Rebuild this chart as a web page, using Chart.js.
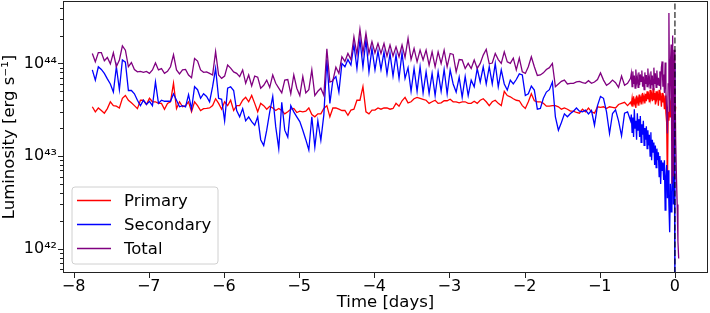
<!DOCTYPE html>
<html>
<head>
<meta charset="utf-8">
<script src="https://cdn.jsdelivr.net/npm/chart.js@4.4.1/dist/chart.umd.min.js"></script>
<style>
  html, body { margin: 0; padding: 0; background: #fff; }
  #wrap { width: 710px; height: 313px; }
</style>
</head>
<body>
<div id="wrap"><canvas id="lum"></canvas></div>
<script>
// luminosity values are given in units of 1e43 erg/s
const UNIT = 1e43;

// sample times: output every 0.04 d, then every 0.01 d over the last ~0.6 d
const coarseStart = -7.75, coarseStep = 0.04, coarseCount = 180;
const fineStart = -0.58, fineStep = 0.01, fineCount = 64;

const xTicks = [-8, -7, -6, -5, -4, -3, -2, -1, 0];
const xMin = -8.14, xMax = 0.44;
const yMin = 5.45e41, yMax = 4.72e44;
const mergerTime = 0;

const primary = [
  // coarse part
  3.4, 3.0, 3.3, 3.1, 2.9, 3.25, 3.85, 3.5, 3.45, 3.3,
  4.2, 4.5, 4.0, 3.75, 3.5, 3.25, 4.0, 4.0, 3.6, 4.2,
  3.85, 3.85, 3.7, 3.7, 3.2, 3.7, 3.85, 6.1, 3.25, 3.85,
  3.4, 3.5, 3.85, 3.0, 3.85, 3.5, 3.1, 3.25, 3.26, 3.3,
  3.5, 4.15, 3.7, 3.2, 3.85, 3.5, 4.0, 3.1, 3.5, 3.5,
  4.0, 4.3, 3.85, 4.5, 3.7, 3.0, 3.7, 3.5, 3.2, 3.45,
  3.3, 3.1, 3.26, 3.1, 2.85, 3.0, 3.2, 3.26, 2.95, 3.05,
  3.0, 3.05, 3.3, 2.8, 2.65, 2.85, 2.85, 3.26, 3.5, 2.65,
  3.3, 3.3, 3.2, 3.1, 3.1, 2.75, 3.13, 3.2, 4.0, 4.0,
  5.6, 3.0, 2.85, 3.13, 3.13, 3.3, 3.2, 3.3, 3.3, 3.2,
  3.26, 3.7, 3.45, 3.95, 4.3, 3.75, 3.85, 4.15, 4.3, 4.2,
  4.1, 4.0, 3.7, 3.85, 4.0, 3.7, 3.75, 3.95, 3.95, 4.1,
  3.85, 3.85, 3.75, 3.85, 3.85, 3.7, 3.7, 3.9, 3.7, 4.0,
  4.15, 3.85, 3.5, 3.85, 4.0, 3.7, 3.5, 5.0, 4.5, 4.36,
  4.15, 4.0, 3.95, 3.5, 3.26, 3.85, 4.7, 3.95, 3.85, 3.85,
  3.7, 3.45, 3.45, 3.5, 3.5, 3.4, 3.2, 3.3, 3.2, 3.05,
  3.05, 2.95, 2.9, 3.2, 3.0, 3.3, 3.0, 2.9, 3.4, 3.35,
  3.4, 3.26, 3.4, 3.35, 3.3, 3.6, 3.7, 3.8, 3.5, 3.8,
  // fine part
  3.6, 4.2, 3.4, 4.4, 3.7, 4.0, 3.3, 4.5, 3.8, 4.2,
  3.5, 4.6, 3.9, 4.3, 3.6, 4.8, 4.0, 4.4, 3.7, 4.7,
  3.9, 5.0, 4.1, 4.5, 3.8, 5.2, 4.2, 4.6, 3.9, 5.4,
  4.0, 4.8, 3.6, 5.0, 4.2, 4.6, 3.5, 5.2, 4.0, 4.4,
  3.4, 4.8, 3.8, 4.2, 3.2, 4.5, 2.9, 2.3, 0.46, 3.0,
  2.4, 4.0, 2.6, 4.2, 2.8, 4.4, 3.0, 3.8, 2.6, 3.4,
  null, null, null, null
];

const secondary = [
  8.5, 6.6, 9.2, 8.6, 7.8, 6.8, 6.0, 4.9, 9.2, 5.2,
  10.9, 10.3, 5.1, 5.1, 4.7, 4.0, 3.5, 4.0, 3.6, 3.9,
  3.5, 6.3, 3.7, 4.0, 3.9, 3.9, 3.9, 4.7, 4.0, 3.4,
  3.5, 3.4, 4.6, 3.2, 5.6, 5.2, 4.2, 4.7, 4.4, 3.85,
  5.6, 8.8, 4.2, 4.1, 2.4, 5.4, 5.6, 5.1, 3.1, 2.65,
  3.25, 2.4, 2.65, 2.35, 2.15, 2.65, 1.5, 1.3, 1.9, 3.0,
  4.4, 2.06, 1.2, 3.8, 1.9, 1.6, 3.5, 3.0, 2.65, 2.35,
  1.9, 1.5, 1.16, 2.65, 1.25, 2.4, 1.48, 2.8, 11.0, 3.7,
  6.6, 7.2, 4.9, 10.0, 9.2, 11.0, 9.6, 16.0, 8.8, 18.0,
  9.2, 18.0, 8.1, 14.5, 8.5, 13.6, 8.6, 13.3, 7.7, 12.8,
  7.3, 12.3, 6.9, 13.0, 6.9, 9.0, 5.0, 8.8, 5.0, 9.2,
  4.8, 8.1, 4.74, 7.8, 4.5, 8.1, 5.0, 8.6, 4.7, 8.5,
  6.0, 4.9, 7.1, 4.3, 7.2, 4.5, 6.6, 5.6, 8.8, 6.3,
  9.2, 6.0, 9.2, 6.0, 10.0, 5.6, 8.5, 6.0, 5.15, 6.6,
  6.0, 6.7, 7.7, 7.5, 4.5, 4.7, 5.7, 5.15, 3.2, 3.26,
  4.2, 4.9, 5.2, 6.3, 2.65, 1.9, 2.3, 2.85, 2.65, 2.88,
  3.05, 3.3, 3.05, 3.0, 3.13, 2.85, 3.1, 2.15, 3.5, 4.4,
  4.2, 3.0, 1.75, 2.88, 3.15, 2.4, 1.65, 2.9, 3.0, 2.4,
  2.8, 1.8, 2.6, 1.6, 3.2, 2.0, 2.4, 1.5, 2.9, 1.9,
  2.5, 1.6, 2.7, 1.4, 2.2, 1.7, 2.4, 1.3, 2.0, 1.5,
  2.1, 1.2, 1.9, 1.3, 1.7, 1.0, 1.8, 0.9, 1.5, 1.1,
  1.4, 0.8, 1.3, 0.75, 1.2, 0.9, 1.1, 0.6, 1.0, 0.5,
  0.9, 0.7, 0.85, 0.55, 0.9, 0.26, 0.6, 0.8, 0.35, 0.7,
  0.3, 0.15, 0.5, 0.25, 0.4, 1.5, 0.3, 10, 0.02, null,
  null, null, null, null
];

const total = [
  12.8, 10.4, 13.1, 13.1, 10.7, 11.6, 9.9, 13.0, 9.2, 10.9,
  15.5, 13.9, 9.2, 10.2, 8.6, 8.1, 8.2, 8.0, 8.2, 7.8,
  8.5, 10.1, 8.5, 8.8, 7.8, 8.2, 9.2, 12.4, 8.5, 7.7,
  8.5, 8.6, 7.5, 7.0, 11.3, 10.6, 8.5, 8.0, 8.1, 7.8,
  7.5, 13.4, 7.5, 6.9, 7.3, 9.6, 8.9, 8.1, 7.8, 7.2,
  8.5, 6.1, 7.5, 5.7, 7.3, 7.1, 5.4, 5.8, 6.6, 5.5,
  7.5, 6.1, 5.4, 4.8, 6.6, 6.7, 4.7, 7.5, 5.4, 4.5,
  7.2, 4.8, 5.2, 8.5, 4.5, 5.0, 5.4, 4.5, 14.4, 6.3,
  6.5, 9.1, 7.8, 11.8, 10.5, 12.8, 11.0, 19.4, 12.5, 23.3,
  13.0, 21.1, 12.8, 17.2, 13.0, 16.4, 12.8, 16.4, 12.0, 15.8,
  12.0, 15.1, 11.8, 15.8, 11.6, 18.6, 11.0, 14.5, 10.4, 13.9,
  10.9, 13.9, 9.6, 13.3, 9.2, 13.3, 10.0, 13.9, 9.2, 12.8,
  12.5, 8.1, 11.0, 10.9, 8.8, 10.0, 8.8, 10.9, 8.8, 10.0,
  12.3, 14.2, 9.9, 10.1, 12.8, 11.0, 10.0, 13.3, 10.4, 10.0,
  11.4, 8.5, 11.4, 8.1, 7.8, 9.2, 11.8, 9.2, 7.4, 7.5,
  7.9, 8.6, 9.0, 10.0, 5.6, 6.0, 6.4, 6.6, 6.0, 6.1,
  6.1, 6.3, 6.4, 6.2, 6.1, 6.5, 6.1, 6.3, 6.7, 7.9,
  6.6, 5.8, 6.1, 6.6, 6.2, 5.5, 7.3, 5.8, 6.1, 6.9,
  7.8, 5.6, 8.2, 6.0, 7.4, 5.4, 8.6, 6.2, 7.0, 5.5,
  8.0, 5.8, 7.6, 6.4, 8.4, 5.6, 7.2, 5.2, 8.0, 6.0,
  7.5, 5.6, 8.8, 6.2, 7.0, 5.4, 8.2, 5.8, 7.4, 5.2,
  9.0, 6.0, 7.8, 5.5, 8.4, 5.8, 7.0, 5.8, 8.2, 5.2,
  9.0, 10.5, 5.6, 7.6, 4.8, 10.2, 5.0, 3.0, 1.75, 6.0,
  35, 3.0, 10, 16, 0.5, 20, 0.6, 14, 8, 1.5,
  0.6, 0.3, 0.12, 0.078
];

const times = [];
for (let i = 0; i < coarseCount; i++) times.push(+(coarseStart + i * coarseStep).toFixed(2));
for (let k = 0; k < fineCount; k++) times.push(+(fineStart + k * fineStep).toFixed(2));

function toPoints(vals) {
  return times.map((t, i) => ({ x: t, y: vals[i] == null ? null : vals[i] * UNIT }));
}

const SUP = '⁰¹²³⁴⁵⁶⁷⁸⁹';
function sup(n) {
  return String(n).split('').map(c => SUP[+c]).join('');
}

const FONT = 'DejaVu Sans';
Chart.defaults.font.family = FONT;
Chart.defaults.color = '#000';

// spines and tick marks (major/minor) like matplotlib
const axesFrame = {
  id: 'axesFrame',
  afterDatasetsDraw(chart) {
    const { ctx, chartArea: a, scales: { x, y } } = chart;
    ctx.save();
    ctx.strokeStyle = '#222';
    ctx.lineWidth = 1;
    ctx.beginPath();
    x.ticks.forEach(t => {
      const px = Math.round(x.getPixelForValue(t.value)) + 0.5;
      ctx.moveTo(px, a.bottom);
      ctx.lineTo(px, a.bottom + 5);
    });
    y.ticks.forEach(t => {
      const py = Math.round(y.getPixelForValue(t.value)) + 0.5;
      ctx.moveTo(a.left, py);
      ctx.lineTo(a.left - (t.major ? 5 : 3), py);
    });
    ctx.stroke();
    ctx.strokeRect(Math.round(a.left) + 0.5, Math.round(a.top) + 0.5,
      Math.round(a.right - a.left) - 1, Math.round(a.bottom - a.top) - 1);
    ctx.restore();
  }
};

// legend box in the lower left of the axes
const boxLegend = {
  id: 'boxLegend',
  afterDraw(chart) {
    const { ctx, chartArea: a } = chart;
    const items = chart.data.datasets.filter(d => d.label);
    const rowH = 24, w = 146, h = 77;
    const x0 = a.left + 9, y0 = a.bottom - 9 - h;
    const r = 3;
    ctx.save();
    ctx.beginPath();
    ctx.moveTo(x0 + r, y0);
    ctx.arcTo(x0 + w, y0, x0 + w, y0 + h, r);
    ctx.arcTo(x0 + w, y0 + h, x0, y0 + h, r);
    ctx.arcTo(x0, y0 + h, x0, y0, r);
    ctx.arcTo(x0, y0, x0 + w, y0, r);
    ctx.closePath();
    ctx.fillStyle = 'rgba(255,255,255,0.8)';
    ctx.fill();
    ctx.strokeStyle = '#d0d0d0';
    ctx.lineWidth = 1;
    ctx.stroke();
    ctx.font = '16.5px "' + FONT + '"';
    ctx.textBaseline = 'middle';
    ctx.fillStyle = '#000';
    items.forEach((d, i) => {
      const cy = y0 + 13.5 + i * rowH;
      ctx.beginPath();
      ctx.strokeStyle = d.borderColor;
      ctx.lineWidth = 1.5;
      ctx.moveTo(x0 + 5, cy);
      ctx.lineTo(x0 + 39, cy);
      ctx.stroke();
      ctx.fillText(d.label, x0 + 52, cy + 1);
    });
    ctx.restore();
  }
};

const lineStyle = { pointRadius: 0, borderWidth: 1.3, tension: 0, spanGaps: false, fill: false };

new Chart(document.getElementById('lum'), {
  type: 'line',
  data: {
    datasets: [
      { label: '', data: [{ x: mergerTime, y: yMin }, { x: mergerTime, y: yMax }],
        borderColor: 'rgba(0,0,0,0.75)', borderWidth: 1.4, borderDash: [6, 2.5],
        pointRadius: 0, order: 0 },
      { label: 'Primary', data: toPoints(primary), borderColor: '#ff0000', order: 3, ...lineStyle },
      { label: 'Secondary', data: toPoints(secondary), borderColor: '#0000ff', order: 2, ...lineStyle },
      { label: 'Total', data: toPoints(total), borderColor: '#800080', order: 1, ...lineStyle }
    ]
  },
  options: {
    responsive: true,
    maintainAspectRatio: false,
    animation: false,
    devicePixelRatio: 1,
    layout: { padding: { top: 1, right: 2, left: 0, bottom: 0 } },
    plugins: { legend: { display: false }, tooltip: { enabled: false } },
    scales: {
      x: {
        type: 'linear',
        min: xMin,
        max: xMax,
        afterBuildTicks: s => { s.ticks = xTicks.map(v => ({ value: v })); },
        afterFit: s => { s.height = 40; s.paddingLeft = 0; s.paddingRight = 0; },
        grid: { display: false, drawTicks: true, tickLength: 5 },
        border: { display: false },
        ticks: {
          font: { size: 16 },
          padding: -1,
          maxRotation: 0,
          autoSkip: false,
          callback: v => (v < 0 ? '\u2212' + Math.abs(v) : String(v))
        },
        title: { display: true, text: 'Time [days]', font: { size: 16.5 }, padding: 0 }
      },
      y: {
        type: 'logarithmic',
        min: yMin,
        max: yMax,
        afterBuildTicks: s => {
          const ticks = [];
          for (let e = 41; e <= 44; e++) {
            for (let m = 1; m <= 9; m++) {
              const v = m * Math.pow(10, e);
              if (v >= yMin && v <= yMax) ticks.push({ value: v, major: m === 1 });
            }
          }
          s.ticks = ticks;
        },
        afterFit: s => { s.width = 63; s.paddingTop = 0; s.paddingBottom = 0; },
        grid: { display: false, drawTicks: true, tickLength: 5 },
        border: { display: false },
        ticks: {
          font: { size: 16 },
          padding: 1,
          autoSkip: false,
          callback: v => {
            const e = Math.round(Math.log10(v));
            return Math.abs(v / Math.pow(10, e) - 1) < 1e-6 ? '10' + sup(e) : '';
          }
        },
        title: { display: true, text: 'Luminosity [erg s\u207B\u00B9]', font: { size: 16.5 }, padding: 0 }
      }
    }
  },
  plugins: [axesFrame, boxLegend]
});
</script>
</body>
</html>
